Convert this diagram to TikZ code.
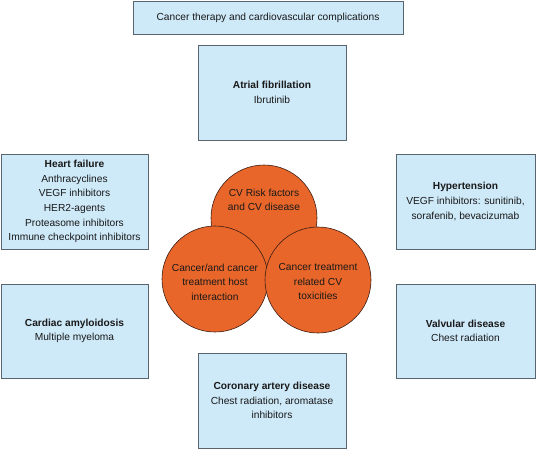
\documentclass[tikz,border=0pt]{standalone}
\usepackage{fontspec}
\setmainfont{Liberation Sans}
\definecolor{boxfill}{RGB}{206,233,248}
\definecolor{boxline}{RGB}{88,100,110}
\definecolor{circfill}{RGB}{232,102,42}
\definecolor{circline}{RGB}{60,30,20}
\tikzset{
  infobox/.style={draw=boxline, line width=1pt, fill=boxfill, align=center,
    inner sep=2pt, font=\fontsize{10.2}{14.6}\selectfont, text=black!90},
  venn/.style={circle, draw=circline, line width=0.6pt, fill=circfill,
    minimum size=106pt, inner sep=0pt},
  venntext/.style={align=center, inner sep=0pt, font=\fontsize{10.2}{14.6}\selectfont, text=black!90}
}
\begin{document}
\begin{tikzpicture}[x=1pt,y=-1pt]
\useasboundingbox (0,0) rectangle (536,448);
\node[infobox, minimum width=270pt, minimum height=33pt] (title) at (268,17.5)
  {Cancer therapy and cardiovascular complications};
\node[infobox, minimum width=148pt, minimum height=95pt] (af) at (272,92.5)
  {\textbf{Atrial fibrillation}\\Ibrutinib};
\node[infobox, minimum width=147pt, minimum height=95pt] (hf) at (74.5,201.5)
  {\textbf{Heart failure}\\Anthracyclines\\VEGF inhibitors\\HER2-agents\\Proteasome inhibitors\\Immune checkpoint inhibitors};
\node[infobox, minimum width=147pt, minimum height=94pt] (ca) at (74.5,331)
  {\textbf{Cardiac amyloidosis}\\Multiple myeloma};
\node[infobox, minimum width=139pt, minimum height=95pt] (ht) at (465.5,201.5)
  {\textbf{Hypertension}\\VEGF inhibitors: sunitinib,\\sorafenib, bevacizumab};
\node[infobox, minimum width=139pt, minimum height=94pt] (vd) at (465.5,331)
  {\textbf{Valvular disease}\\Chest radiation};
\node[infobox, minimum width=148pt, minimum height=95pt] (cad) at (272,400.5)
  {\textbf{Coronary artery disease}\\Chest radiation, aromatase\\inhibitors};
\node[venn] (risk) at (264,218) {};
\node[venn] (host) at (215,279) {};
\node[venn] (tox) at (318,280) {};
\node[venntext] (risktext) at (264,200) {CV Risk factors\\and CV disease};
\node[venntext] (hosttext) at (215,282) {Cancer/and cancer\\treatment host\\interaction};
\node[venntext] (toxtext) at (318,281.5) {Cancer treatment\\related CV\\toxicities};
\end{tikzpicture}
\end{document}
